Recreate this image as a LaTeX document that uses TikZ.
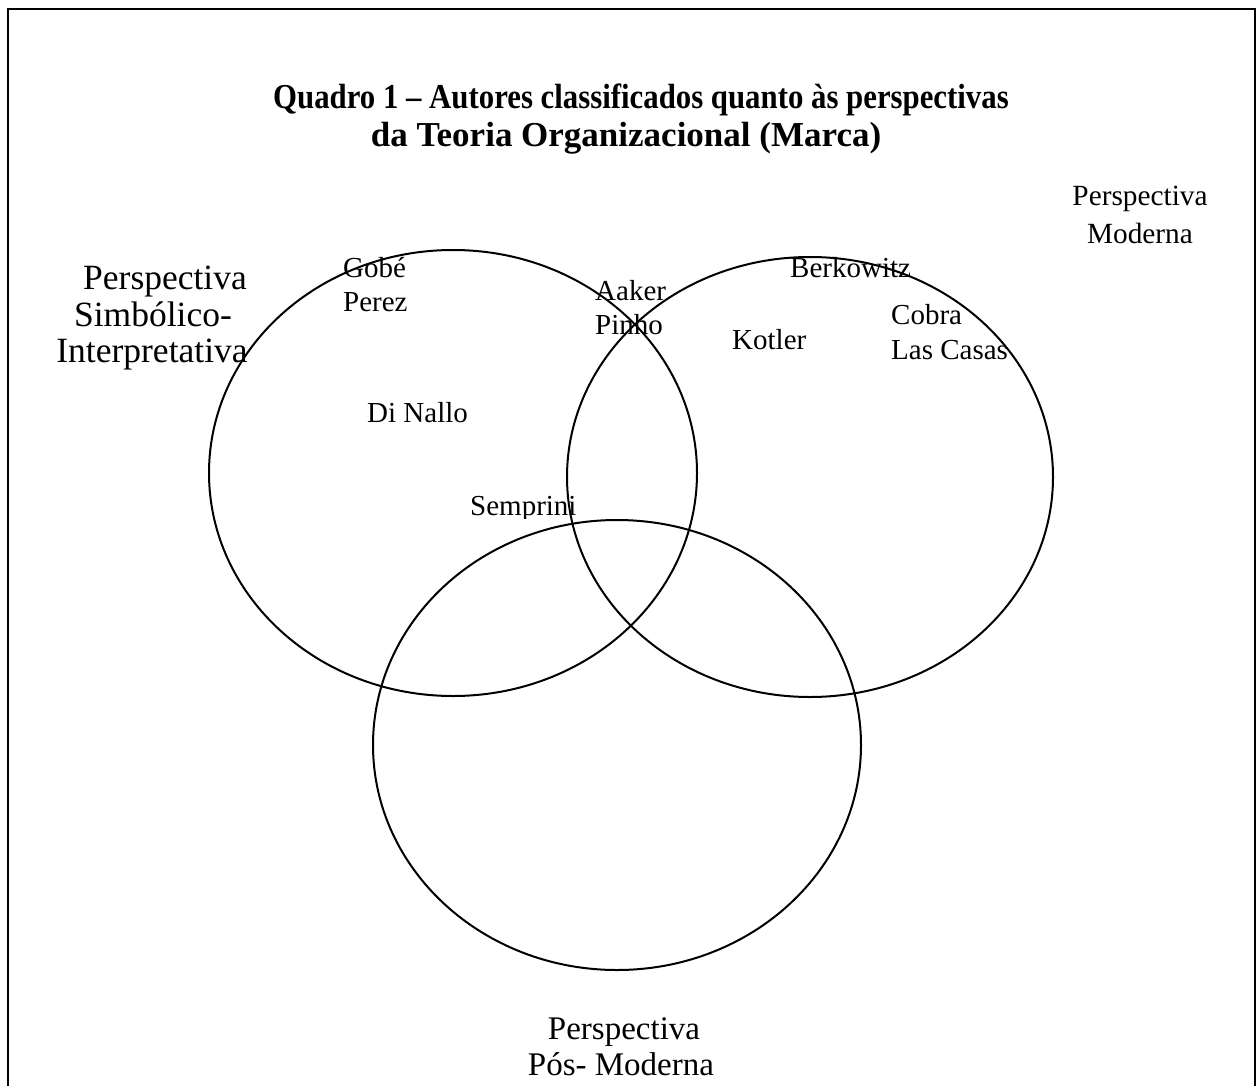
\documentclass[tikz,border=0pt]{standalone}
\usepackage{fontspec}
\usepackage{graphicx}
\setmainfont{Liberation Serif}
\begin{document}
\begin{tikzpicture}[x=1pt,y=-1pt,
  venn/.style={draw=black,line width=2pt},
  frameline/.style={draw=black,line width=2.5pt},
  txt/.style={inner sep=0pt,anchor=base},
  author/.style={txt,anchor=base west,font=\fontsize{29}{35}\selectfont},
  titlefont/.style={txt,font=\bfseries\fontsize{35}{38}\selectfont},
  bigpersp/.style={txt,font=\fontsize{33}{37}\selectfont},
  leftpersp/.style={txt,font=\fontsize{35.5}{37}\selectfont},
  smallpersp/.style={txt,font=\fontsize{29.3}{37}\selectfont}]
\useasboundingbox (0,0) rectangle (1260,1086);
\draw[frameline] (8,1092) -- (8,9) -- (1255,9) -- (1255,1092);
% title
\node[titlefont] (t1) at (641,109) {\scalebox{0.88}[1]{Quadro 1 – Autores classificados quanto às perspectivas}};
\node[titlefont] (t2) at (626,147) {da Teoria Organizacional (Marca)};
% ellipses
\draw[venn] (453,473) ellipse [x radius=244pt, y radius=223pt];
\draw[venn] (810,477) ellipse [x radius=243pt, y radius=220pt];
\draw[venn] (617,745) ellipse [x radius=244pt, y radius=225pt];
% perspective labels
\node[leftpersp] (l1) at (165,289) {Perspectiva};
\node[leftpersp] (l2) at (153,326) {Simbólico-};
\node[leftpersp] (l3) at (152,362) {Interpretativa};
\node[smallpersp] (r1) at (1140,205) {Perspectiva};
\node[smallpersp] (r2) at (1140,243) {Moderna};
\node[bigpersp] (b1) at (624,1039) {Perspectiva};
\node[bigpersp] (b2) at (621,1075) {Pós- Moderna};
% authors
\node[author] (gobe) at (343,277) {Gobé};
\node[author] (perez) at (343,311) {Perez};
\node[author] (aaker) at (595,300) {Aaker};
\node[author] (pinho) at (595,334) {Pinho};
\node[author] (berk) at (790,277) {Berkowitz};
\node[author] (kotler) at (732,349) {Kotler};
\node[author] (cobra) at (891,324) {Cobra};
\node[author] (casas) at (891,359) {Las Casas};
\node[author] (dinallo) at (367,422) {Di Nallo};
\begin{scope}
\clip (440,470) rectangle (640,518);
\node[author] (semprini) at (470,515) {Semprini};
\end{scope}
\end{tikzpicture}
\end{document}
